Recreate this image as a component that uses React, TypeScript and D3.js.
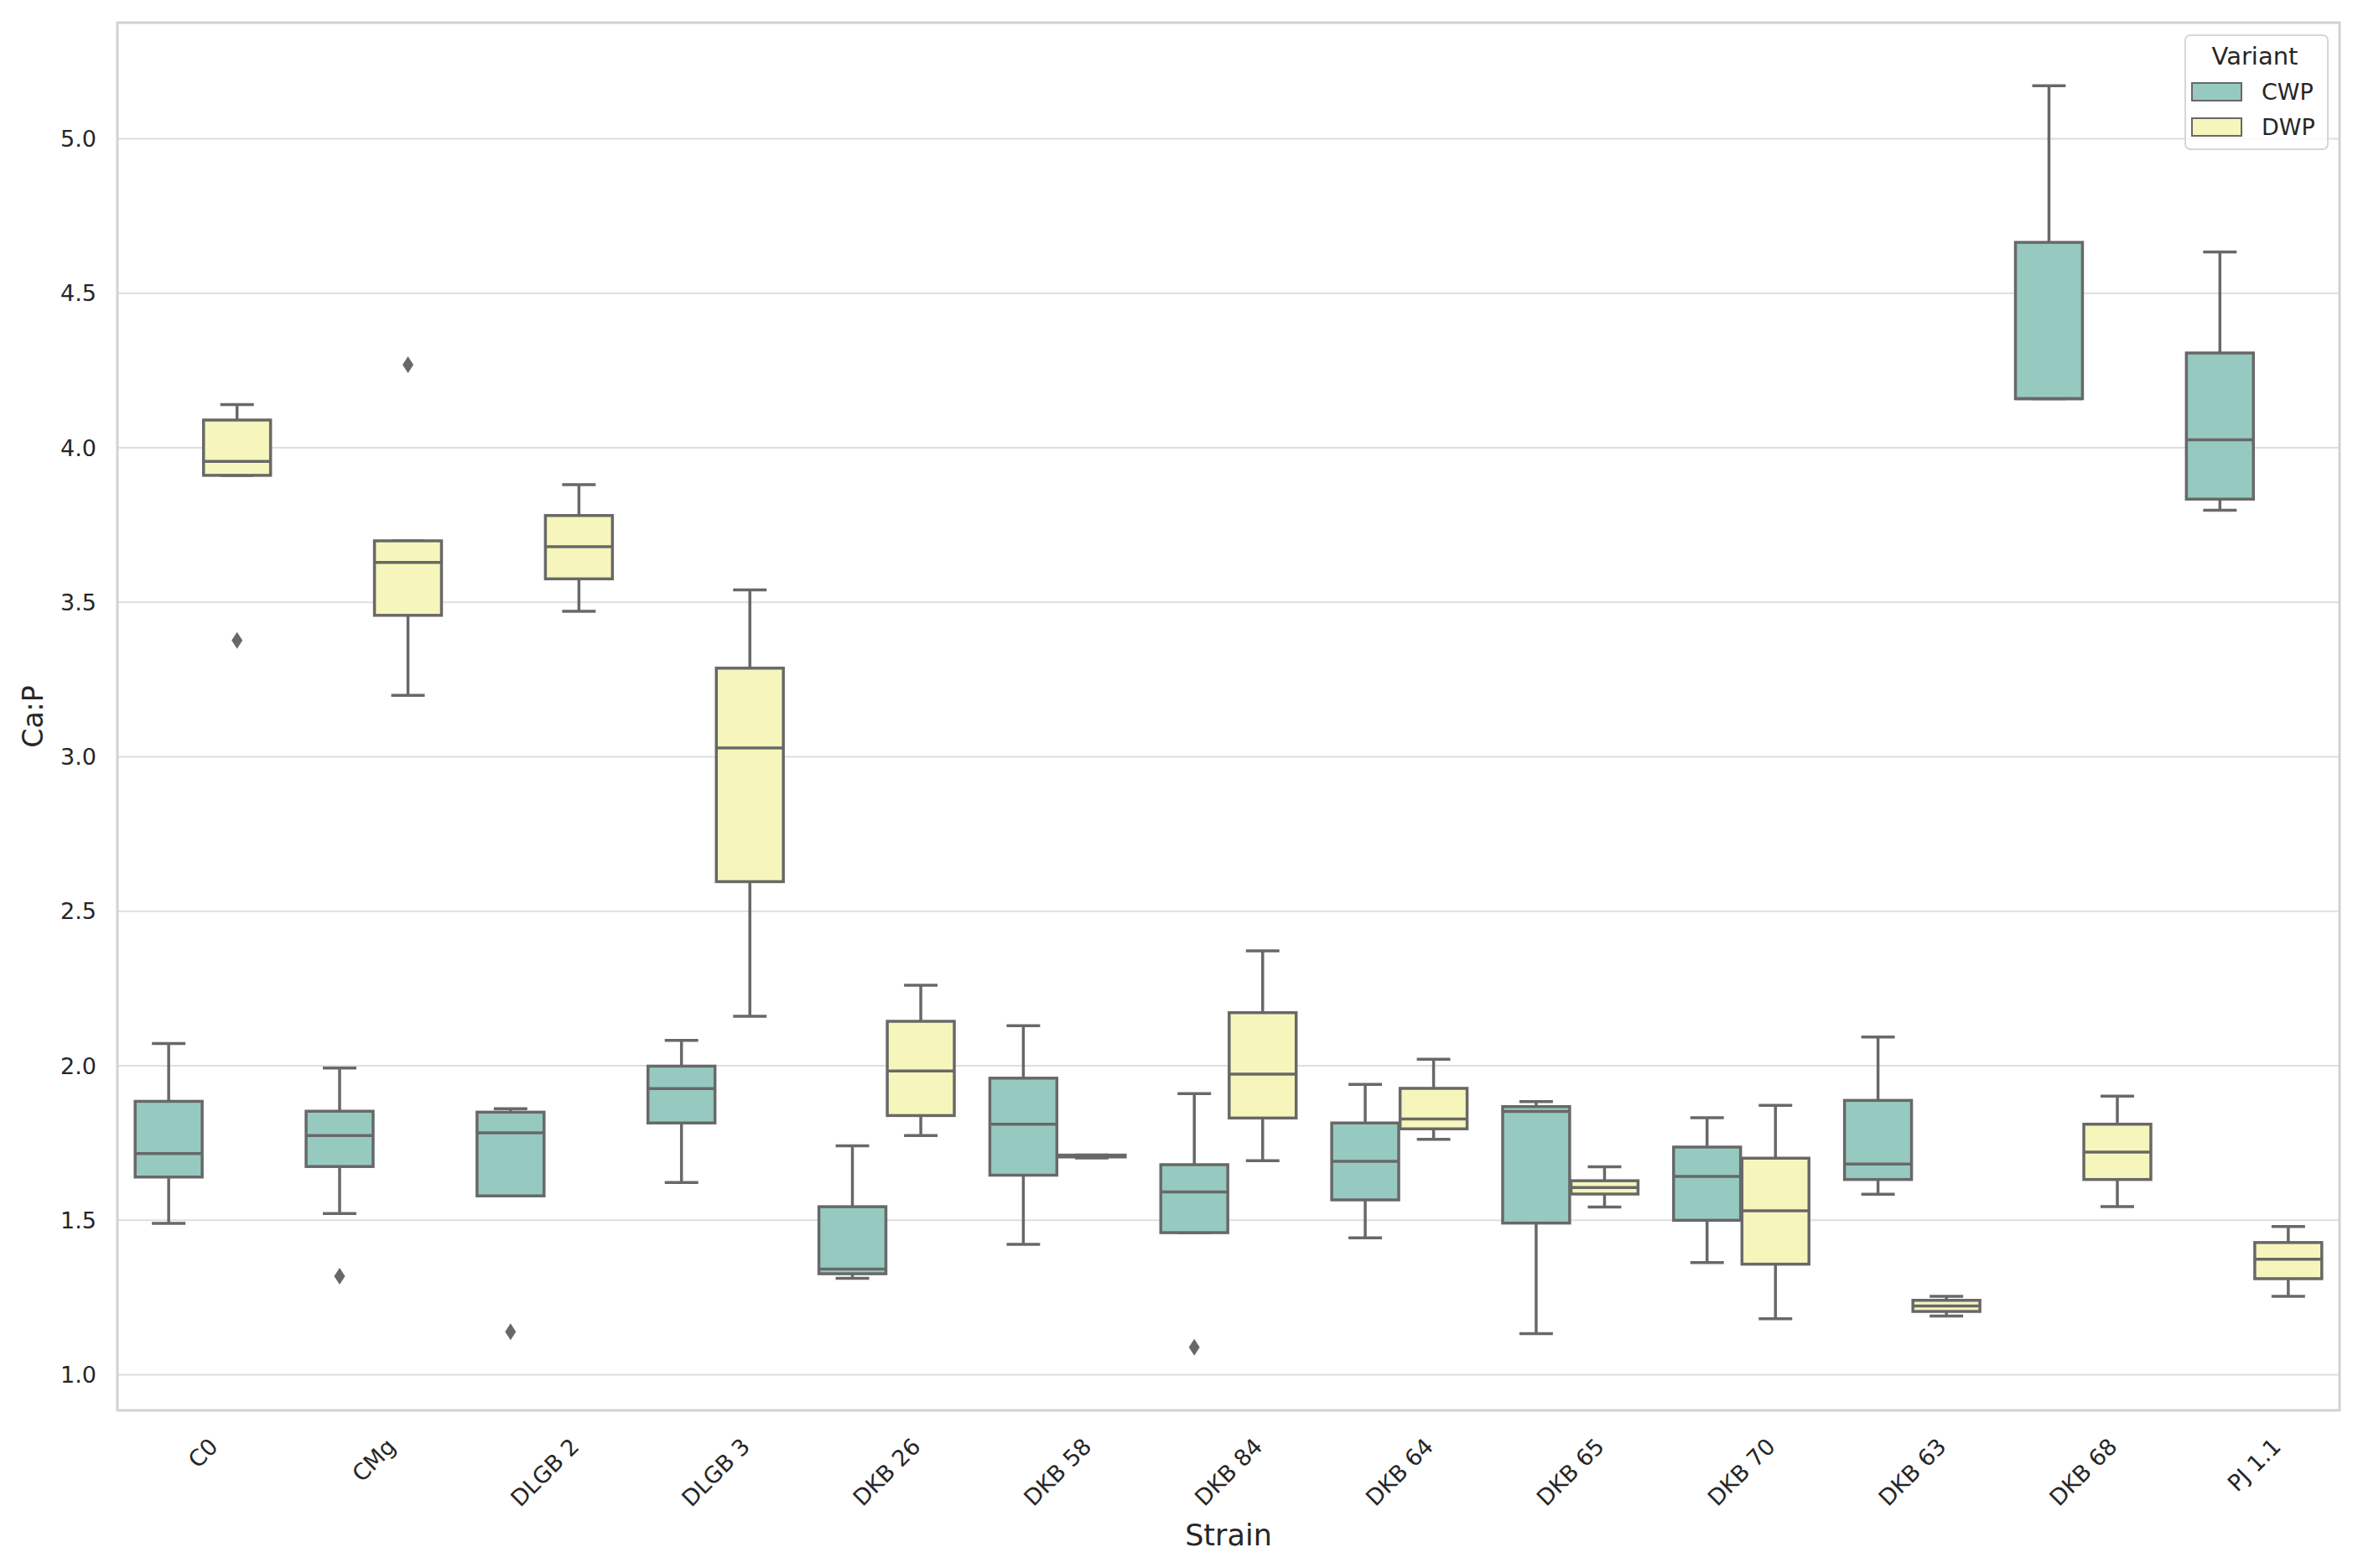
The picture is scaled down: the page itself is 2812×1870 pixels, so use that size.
import React, { useEffect, useRef } from "react";
import * as d3 from "d3";

/* DATA */
const strains = ["C0", "CMg", "DLGB 2", "DLGB 3", "DKB 26", "DKB 58", "DKB 84", "DKB 64", "DKB 65", "DKB 70", "DKB 63", "DKB 68", "PJ 1.1"];
const variants = ["CWP", "DWP"];
const yTicks = [1.0, 1.5, 2.0, 2.5, 3.0, 3.5, 4.0, 4.5, 5.0];

// CWP box stats (lower whisker, q1, median, q3, upper whisker)
const cwpLow = [1.49, 1.522, 1.579, 1.622, 1.312, 1.422, 1.46, 1.443, 1.133, 1.363, 1.584, 4.159, 3.798];
const cwpQ1 = [1.64, 1.674, 1.579, 1.815, 1.327, 1.646, 1.46, 1.566, 1.491, 1.5, 1.632, 4.159, 3.834];
const cwpMed = [1.716, 1.774, 1.783, 1.926, 1.342, 1.811, 1.592, 1.691, 1.852, 1.642, 1.682, 4.159, 4.026];
const cwpQ3 = [1.885, 1.853, 1.85, 1.999, 1.544, 1.96, 1.68, 1.815, 1.868, 1.737, 1.888, 4.665, 4.307];
const cwpHigh = [2.072, 1.993, 1.861, 2.082, 1.741, 2.13, 1.91, 1.94, 1.884, 1.832, 2.093, 5.172, 4.634];
const cwpOutliers = [[], [1.319], [1.139], [], [], [], [1.089], [], [], [], [], [], []];

// DWP box stats
const dwpLow = [3.911, 3.199, 3.471, 2.16, 1.774, 1.702, 1.693, 1.762, 1.543, 1.181, 1.19, 1.544, 1.254];
const dwpQ1 = [3.911, 3.458, 3.576, 2.596, 1.839, 1.705, 1.831, 1.796, 1.585, 1.358, 1.205, 1.632, 1.311];
const dwpMed = [3.956, 3.629, 3.68, 3.029, 1.983, 1.708, 1.973, 1.828, 1.606, 1.531, 1.223, 1.721, 1.374];
const dwpQ3 = [4.09, 3.699, 3.781, 3.287, 2.144, 1.711, 2.172, 1.927, 1.628, 1.701, 1.241, 1.811, 1.428];
const dwpHigh = [4.14, 3.699, 3.881, 3.54, 2.261, 1.711, 2.372, 2.021, 1.673, 1.872, 1.254, 1.902, 1.48];
const dwpOutliers = [[3.377], [4.269], [], [], [], [], [], [], [], [], [], [], []];

const colors = ["#96cac1", "#f6f6bc"];

const App = () => {
  const ref = useRef<SVGSVGElement>(null);

  useEffect(() => {
    const width = 2812;
    const height = 1870;
    const margin = { top: 27, right: 22, bottom: 188, left: 140 };
    const fontFamily = "DejaVu Sans";
    const textColor = "#262626";
    const lineColor = "#686868";
    const lineWidth = 3.5;

    const svg = d3.select(ref.current);
    svg.selectAll("*").remove();

    const stats = [
      { low: cwpLow, q1: cwpQ1, med: cwpMed, q3: cwpQ3, high: cwpHigh, out: cwpOutliers },
      { low: dwpLow, q1: dwpQ1, med: dwpMed, q3: dwpQ3, high: dwpHigh, out: dwpOutliers },
    ];

    const boxes: any[] = [];
    strains.forEach((s, i) => {
      variants.forEach((v, j) => {
        const st = stats[j];
        boxes.push({
          strain: s,
          variant: v,
          j,
          low: st.low[i],
          q1: st.q1[i],
          med: st.med[i],
          q3: st.q3[i],
          high: st.high[i],
          out: st.out[i],
        });
      });
    });

    const allVals = boxes.flatMap((b) => [b.low, b.high, ...b.out]);
    const lo = d3.min(allVals)!;
    const hi = d3.max(allVals)!;
    const pad = (hi - lo) * 0.05;

    const x = d3
      .scaleBand()
      .domain(strains)
      .range([margin.left, width - margin.right]);

    const inner = d3
      .scaleBand()
      .domain(variants)
      .range([x.bandwidth() * 0.1, x.bandwidth() * 0.9]);

    const y = d3
      .scaleLinear()
      .domain([lo - pad, hi + pad])
      .range([height - margin.bottom, margin.top]);

    const bw = inner.bandwidth() * 0.98;

    /* grid */
    svg
      .append("g")
      .selectAll("line")
      .data(yTicks)
      .join("line")
      .attr("x1", margin.left)
      .attr("x2", width - margin.right)
      .attr("y1", (d) => y(d))
      .attr("y2", (d) => y(d))
      .attr("stroke", "#dedede")
      .attr("stroke-width", 2);

    /* frame */
    svg
      .append("rect")
      .attr("x", margin.left)
      .attr("y", margin.top)
      .attr("width", width - margin.left - margin.right)
      .attr("height", height - margin.top - margin.bottom)
      .attr("fill", "none")
      .attr("stroke", "#d2d2d2")
      .attr("stroke-width", 3);

    /* y tick labels */
    svg
      .append("g")
      .selectAll("text")
      .data(yTicks)
      .join("text")
      .attr("x", margin.left - 25)
      .attr("y", (d) => y(d))
      .attr("text-anchor", "end")
      .attr("dominant-baseline", "central")
      .attr("font-family", fontFamily)
      .attr("font-size", 27)
      .attr("fill", textColor)
      .text((d) => d3.format(".1f")(d));

    /* boxes */
    const g = svg
      .append("g")
      .selectAll("g")
      .data(boxes)
      .join("g")
      .attr("transform", (d) => `translate(${x(d.strain)! + inner(d.variant)! + inner.bandwidth() / 2},0)`);

    // whiskers
    g.append("line")
      .attr("y1", (d) => y(d.q3))
      .attr("y2", (d) => y(d.high))
      .attr("stroke", lineColor)
      .attr("stroke-width", lineWidth);
    g.append("line")
      .attr("y1", (d) => y(d.q1))
      .attr("y2", (d) => y(d.low))
      .attr("stroke", lineColor)
      .attr("stroke-width", lineWidth);
    // caps
    g.append("line")
      .attr("x1", -bw / 4)
      .attr("x2", bw / 4)
      .attr("y1", (d) => y(d.high))
      .attr("y2", (d) => y(d.high))
      .attr("stroke", lineColor)
      .attr("stroke-width", lineWidth);
    g.append("line")
      .attr("x1", -bw / 4)
      .attr("x2", bw / 4)
      .attr("y1", (d) => y(d.low))
      .attr("y2", (d) => y(d.low))
      .attr("stroke", lineColor)
      .attr("stroke-width", lineWidth);
    // box
    g.append("rect")
      .attr("x", -bw / 2)
      .attr("width", bw)
      .attr("y", (d) => y(d.q3))
      .attr("height", (d) => Math.max(0, y(d.q1) - y(d.q3)))
      .attr("fill", (d) => colors[d.j])
      .attr("stroke", lineColor)
      .attr("stroke-width", lineWidth);
    // median
    g.append("line")
      .attr("x1", -bw / 2)
      .attr("x2", bw / 2)
      .attr("y1", (d) => y(d.med))
      .attr("y2", (d) => y(d.med))
      .attr("stroke", lineColor)
      .attr("stroke-width", lineWidth);
    // outliers
    g.selectAll("path.flier")
      .data((d) => d.out)
      .join("path")
      .attr("class", "flier")
      .attr("d", (v: any) => {
        const cy = y(v);
        return `M0,${cy - 10}L6.5,${cy}L0,${cy + 10}L-6.5,${cy}Z`;
      })
      .attr("fill", lineColor);

    /* x tick labels, rotated 45 and centred under the tick */
    const xLabels = svg
      .append("g")
      .selectAll("text")
      .data(strains)
      .join("text")
      .attr("text-anchor", "middle")
      .attr("dominant-baseline", "central")
      .attr("font-family", fontFamily)
      .attr("font-size", 27)
      .attr("fill", textColor)
      .text((d) => d);
    const labelTop = height - margin.bottom + 31;
    xLabels.each(function (d) {
      const el = this as SVGTextElement;
      const w = el.getComputedTextLength();
      const cx = x(d)! + x.bandwidth() / 2;
      const cy = labelTop + (w + 20) / (2 * Math.SQRT2);
      d3.select(el).attr("transform", `translate(${cx},${cy}) rotate(-45)`);
    });

    /* axis titles */
    svg
      .append("text")
      .attr("x", (margin.left + width - margin.right) / 2)
      .attr("y", 1843)
      .attr("text-anchor", "middle")
      .attr("font-family", fontFamily)
      .attr("font-size", 35)
      .attr("fill", textColor)
      .text("Strain");

    svg
      .append("text")
      .attr("transform", `translate(51,${(margin.top + height - margin.bottom) / 2}) rotate(-90)`)
      .attr("text-anchor", "middle")
      .attr("font-family", fontFamily)
      .attr("font-size", 33)
      .attr("fill", textColor)
      .text("Ca:P");

    /* legend */
    const legend = svg.append("g").attr("transform", "translate(2606,42)");
    legend
      .append("rect")
      .attr("width", 170)
      .attr("height", 136)
      .attr("rx", 6)
      .attr("fill", "white")
      .attr("fill-opacity", 0.8)
      .attr("stroke", "#d6d6d6")
      .attr("stroke-width", 2);
    legend
      .append("text")
      .attr("x", 83)
      .attr("y", 35)
      .attr("text-anchor", "middle")
      .attr("font-family", fontFamily)
      .attr("font-size", 29)
      .attr("fill", textColor)
      .text("Variant");
    const items = legend
      .selectAll("g.item")
      .data(variants)
      .join("g")
      .attr("class", "item")
      .attr("transform", (d, i) => `translate(8,${57 + i * 42})`);
    items
      .append("rect")
      .attr("width", 59)
      .attr("height", 21)
      .attr("fill", (d, i) => colors[i])
      .attr("stroke", lineColor)
      .attr("stroke-width", 2);
    items
      .append("text")
      .attr("x", 83)
      .attr("y", 20)
      .attr("font-family", fontFamily)
      .attr("font-size", 27)
      .attr("fill", textColor)
      .text((d) => d);
  }, []);

  return (
    <svg
      ref={ref}
      width={2812}
      height={1870}
      style={{ position: "absolute", left: 0, top: 0, background: "white" }}
    />
  );
};

export default App;
